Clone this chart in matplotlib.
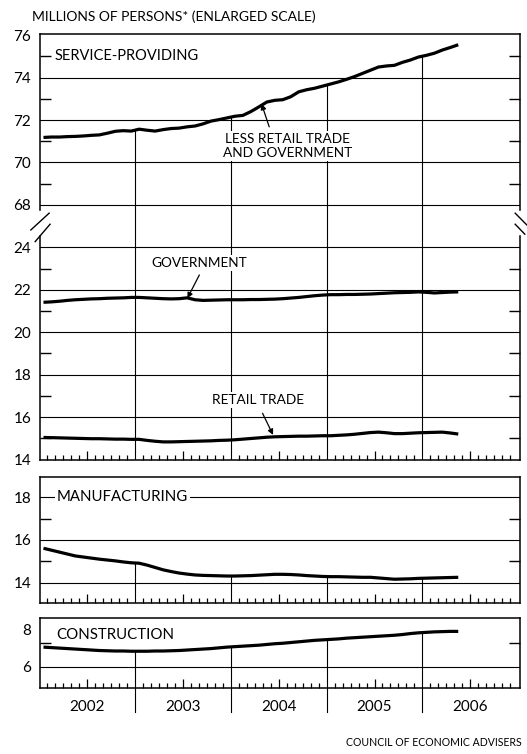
import numpy as np
import matplotlib
matplotlib.use("Agg")
import matplotlib.pyplot as plt
from matplotlib.transforms import ScaledTranslation

# monthly data, Jan 2002 - May 2006, millions of persons
services_less = [71.18, 71.20, 71.20, 71.22, 71.23, 71.25, 71.28, 71.30, 71.38, 71.47, 71.50, 71.48,
                 71.57, 71.52, 71.48, 71.55, 71.60, 71.62, 71.68, 71.72, 71.82, 71.95, 72.02, 72.10,
                 72.18, 72.22, 72.40, 72.62, 72.85, 72.93, 72.96, 73.10, 73.33, 73.43, 73.50, 73.60,
                 73.70, 73.80, 73.92, 74.05, 74.20, 74.35, 74.50, 74.55, 74.58, 74.72, 74.83, 74.97,
                 75.05, 75.15, 75.30, 75.42, 75.55]
government = [21.41, 21.43, 21.46, 21.50, 21.53, 21.55, 21.57, 21.58, 21.60, 21.61, 21.62, 21.64,
              21.64, 21.62, 21.60, 21.58, 21.57, 21.58, 21.62, 21.53, 21.50, 21.51, 21.52, 21.53,
              21.53, 21.53, 21.54, 21.54, 21.55, 21.56, 21.58, 21.61, 21.64, 21.68, 21.72, 21.75,
              21.77, 21.77, 21.78, 21.78, 21.79, 21.80, 21.82, 21.84, 21.86, 21.87, 21.88, 21.90,
              21.88, 21.85, 21.87, 21.89, 21.90]
retail = [15.04, 15.03, 15.02, 15.01, 15.00, 14.99, 14.98, 14.98, 14.97, 14.96, 14.96, 14.95,
          14.95, 14.90, 14.86, 14.83, 14.83, 14.84, 14.85, 14.86, 14.87, 14.88, 14.90, 14.91,
          14.93, 14.96, 14.99, 15.02, 15.05, 15.07, 15.08, 15.09, 15.10, 15.10, 15.11, 15.12,
          15.12, 15.14, 15.16, 15.19, 15.23, 15.27, 15.29, 15.26, 15.22, 15.22, 15.24, 15.26,
          15.27, 15.28, 15.29, 15.25, 15.20]
manufacturing = [15.61, 15.52, 15.43, 15.34, 15.25, 15.20, 15.15, 15.10, 15.06, 15.02, 14.97, 14.93,
                 14.91, 14.82, 14.71, 14.60, 14.52, 14.45, 14.40, 14.36, 14.34, 14.33, 14.32, 14.31,
                 14.31, 14.32, 14.33, 14.35, 14.37, 14.39, 14.39, 14.38, 14.36, 14.33, 14.31, 14.29,
                 14.28, 14.28, 14.27, 14.26, 14.25, 14.25, 14.22, 14.19, 14.16, 14.17, 14.18, 14.20,
                 14.21, 14.22, 14.23, 14.24, 14.25]
construction = [6.81, 6.79, 6.77, 6.75, 6.73, 6.71, 6.69, 6.67, 6.66, 6.65, 6.65, 6.64,
                6.64, 6.64, 6.65, 6.65, 6.66, 6.67, 6.69, 6.71, 6.73, 6.75, 6.78, 6.81,
                6.83, 6.85, 6.87, 6.89, 6.92, 6.95, 6.97, 7.00, 7.03, 7.06, 7.09, 7.11,
                7.13, 7.15, 7.18, 7.20, 7.22, 7.24, 7.26, 7.28, 7.30, 7.33, 7.37, 7.40,
                7.42, 7.44, 7.45, 7.46, 7.46]
years = [2002, 2003, 2004, 2005, 2006]

x = 2002 + (np.arange(len(services_less)) + 0.5) / 12
BREAK = 42  # upper scale: 68 is drawn where 26 would sit
sp = np.array(services_less) - BREAK

plt.rcParams['font.family'] = ['Lato', 'DejaVu Sans']
LW_GRID = 0.8
LW_DATA = 2.3

fig = plt.figure(figsize=(5.27, 7.54), dpi=100)

def add_panel(top, bottom):
    return fig.add_axes([39.5 / 527, 1 - bottom / 754, 480.5 / 527, (bottom - top) / 754])

ax1 = add_panel(33.5, 459.5)
ax2 = add_panel(477, 602.7)
ax3 = add_panel(618.3, 688.3)

def style(ax, ylim, label_pos, labels, minor_pos, grid_pos, line_y):
    ax.set_xlim(2002, 2007.02)
    ax.set_ylim(*ylim)
    ax.set_yticks(label_pos)
    ax.set_yticklabels(labels)
    ax.set_yticks(minor_pos, minor=True)
    ax.tick_params(axis='y', which='major', length=0, pad=6, labelsize=11)
    ax.tick_params(axis='y', which='minor', direction='in', length=8, width=1,
                   left=True, right=True)
    ax.set_xticks([y + 0.5 for y in years])
    ax.set_xticks([y + m / 12 for y in years for m in range(1, 12) if m != 6], minor=True)
    ax.tick_params(axis='x', which='major', direction='in', length=6.5, width=0.9,
                   labelbottom=False)
    ax.tick_params(axis='x', which='minor', direction='in', length=3.6, width=0.9)
    for s in ax.spines.values():
        s.set_linewidth(1.1)
    for g in grid_pos:
        ax.axhline(g, color='black', lw=LW_GRID, zorder=1)
    # year dividers run from the curve down to the base
    for yb in years[1:]:
        ax.vlines(yb, ylim[0], np.interp(yb, x, line_y), color='black', lw=LW_GRID, zorder=1)

# --- service-providing panel (with scale break) ---
top_labels = [14, 16, 18, 20, 22, 24, 68, 70, 72, 74, 76]
top_pos = [v if v < 50 else v - BREAK for v in top_labels]
top_minor = [15, 17, 19, 21, 23, 69 - BREAK, 71 - BREAK, 73 - BREAK, 75 - BREAK]
style(ax1, (14, 34.08), top_pos, [str(v) for v in top_labels], top_minor,
      [16, 18, 20, 22, 24, 26, 28, 30, 32], sp)
ax1.plot(x, sp, color='black', lw=LW_DATA, zorder=4, solid_capstyle='butt')
ax1.plot(x, government, color='black', lw=LW_DATA, zorder=4, solid_capstyle='butt')
ax1.plot(x, retail, color='black', lw=LW_DATA, zorder=4, solid_capstyle='butt')

# broken side spines with slash marks
ax1.spines['left'].set_visible(False)
ax1.spines['right'].set_visible(False)
tr = ax1.get_yaxis_transform()
for xs in (0, 1):
    ax1.plot([xs, xs], [14, 24.55], transform=tr, color='black', lw=1.1, clip_on=False)
    ax1.plot([xs, xs], [25.75, 34.08], transform=tr, color='black', lw=1.1, clip_on=False)
for (x0, y0, x1, y1) in [(-0.018, 24.82, 0.020, 25.61), (-0.009, 24.27, 0.022, 25.09),
                         (0.990, 25.61, 1.014, 25.06), (0.990, 25.09, 1.010, 24.62)]:
    ax1.plot([x0, x1], [y0, y1], transform=tr, color='black', lw=1.0, clip_on=False)

box = dict(facecolor='white', edgecolor='none', pad=1.5)
ax1.text(2002.16, 33, 'SERVICE-PROVIDING', fontsize=10.5, va='center', ha='left', bbox=box, zorder=3)
ax1.text(2004.59, 28.78, 'LESS RETAIL TRADE\nAND GOVERNMENT', fontsize=9.8, va='center',
         ha='center', linespacing=1.25, bbox=box, zorder=3)
ax1.text(2003.67, 23.28, 'GOVERNMENT', fontsize=9.8, va='center', ha='center', bbox=box, zorder=3)
ax1.text(2004.28, 16.8, 'RETAIL TRADE', fontsize=9.8, va='center', ha='center', bbox=box, zorder=3)
arrow = dict(arrowstyle='-|>', color='black', lw=0.9, mutation_scale=8, shrinkA=0, shrinkB=0)
ax1.annotate('', xy=(2004.32, 30.76), xytext=(2004.40, 29.68), arrowprops=arrow, zorder=5)
ax1.annotate('', xy=(2003.545, 21.6), xytext=(2003.67, 22.7), arrowprops=arrow, zorder=5)
ax1.annotate('', xy=(2004.44, 15.16), xytext=(2004.33, 16.18), arrowprops=arrow, zorder=5)

# --- manufacturing ---
style(ax2, (13.06, 18.95), [14, 16, 18], ['14', '16', '18'], [15, 17], [14, 16, 18], manufacturing)
ax2.plot(x, manufacturing, color='black', lw=LW_DATA, zorder=4, solid_capstyle='butt')
ax2.text(2002.18, 18, 'MANUFACTURING', fontsize=10.8, va='center', ha='left', bbox=box, zorder=3)

# --- construction ---
style(ax3, (5.11, 8.0), [6, 8], ['6', '8'], [7], [6], construction)
ax3.plot(x, construction, color='black', lw=LW_DATA, zorder=4, solid_capstyle='butt')
ax3.text(2002.18, 7.33, 'CONSTRUCTION', fontsize=10.8, va='center', ha='left', bbox=box, zorder=3)
ax3.set_xticklabels([str(y) for y in years])
ax3.tick_params(axis='x', which='major', labelbottom=True, pad=8.5, labelsize=11)
# the "8" sits a little below the top edge in the original
lab8 = ax3.get_yticklabels()[1]
lab8.set_transform(lab8.get_transform() + ScaledTranslation(0, -8 / 72, fig.dpi_scale_trans))
xtr = ax3.get_xaxis_transform()
for yb in years[1:]:
    ax3.plot([yb, yb], [0, -0.34], transform=xtr, color='black', lw=LW_GRID, clip_on=False)

fig.text(32 / 527, 1 - 17 / 754, 'MILLIONS OF PERSONS* (ENLARGED SCALE)', fontsize=10,
         va='center', ha='left')
fig.text(522 / 527, 1 - 743 / 754, 'COUNCIL OF ECONOMIC ADVISERS', fontsize=7.6,
         va='center', ha='right')

fig.savefig('out.png', dpi=100)
